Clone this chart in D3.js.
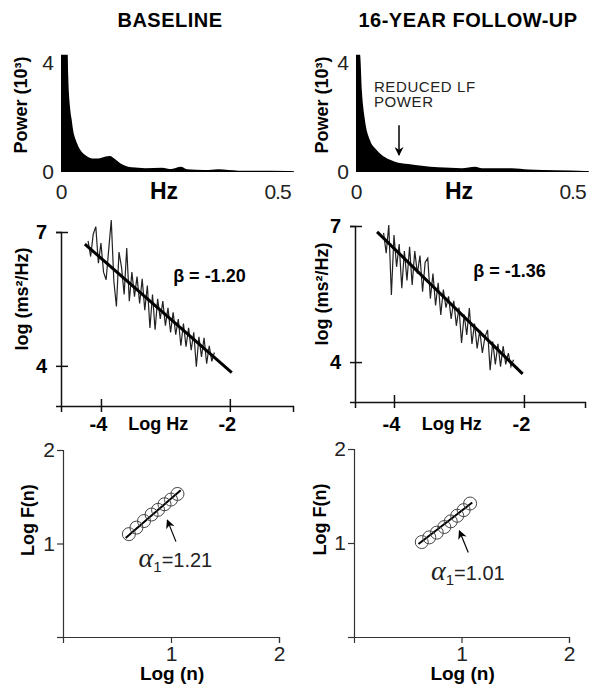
<!DOCTYPE html>
<html>
<head>
<meta charset="utf-8">
<script src="https://cdn.jsdelivr.net/npm/d3@7"></script>
<style>
body { margin: 0; background: #fff; }
</style>
</head>
<body>
<script>
// values
var titles = ["BASELINE", "16-YEAR FOLLOW-UP"];

// power spectra (Hz, power in 10^3)
var hzBase  = [0, 0.015, 0.016, 0.020, 0.024, 0.027, 0.033, 0.039, 0.054, 0.069, 0.083, 0.098, 0.109, 0.121, 0.135, 0.158, 0.188, 0.225, 0.247, 0.268, 0.281, 0.321, 0.351, 0.396, 0.507, 0.52];
var powBase = [4.3, 4.3, 3.6, 2.4, 1.9, 1.54, 1.17, 0.93, 0.62, 0.50, 0.50, 0.56, 0.59, 0.47, 0.29, 0.17, 0.14, 0.16, 0.11, 0.19, 0.10, 0.07, 0.10, 0.05, 0.04, 0.03];
var hzFollow  = [0, 0.009, 0.013, 0.020, 0.031, 0.046, 0.065, 0.087, 0.117, 0.147, 0.184, 0.236, 0.266, 0.281, 0.348, 0.385, 0.511, 0.52];
var powFollow = [4.3, 4.3, 3.0, 1.9, 1.17, 0.81, 0.54, 0.38, 0.29, 0.23, 0.17, 0.14, 0.19, 0.14, 0.14, 0.09, 0.04, 0.03];

// log-log spectra
var logHzBase = [-4.20, -4.16, -4.12, -4.08, -4.04, -4.00, -3.96, -3.92, -3.88, -3.84, -3.80, -3.76, -3.72, -3.68, -3.64, -3.60, -3.56, -3.52, -3.48, -3.44, -3.40, -3.36, -3.32, -3.28, -3.24, -3.20, -3.16, -3.12, -3.08, -3.04, -3.00, -2.96, -2.92, -2.88, -2.84, -2.80, -2.76, -2.72, -2.68, -2.64, -2.60, -2.56, -2.52, -2.48, -2.44, -2.40, -2.36, -2.32, -2.28, -2.24];
var logPowBase = [6.80, 6.45, 6.95, 7.12, 6.30, 6.75, 6.10, 5.93, 6.60, 7.27, 5.90, 5.33, 6.55, 6.20, 5.60, 6.64, 5.45, 6.10, 5.55, 6.00, 5.40, 5.95, 5.25, 5.80, 4.85, 5.60, 4.81, 5.50, 5.05, 5.45, 4.90, 5.30, 4.75, 5.20, 4.70, 5.05, 4.45, 4.95, 4.43, 4.85, 4.35, 4.75, 3.98, 4.65, 4.20, 4.63, 4.05, 4.45, 4.10, 4.30];
var logHzFollow = [-4.16, -4.12, -4.08, -4.04, -4.00, -3.96, -3.92, -3.88, -3.84, -3.80, -3.76, -3.72, -3.68, -3.64, -3.60, -3.56, -3.52, -3.48, -3.44, -3.40, -3.36, -3.32, -3.28, -3.24, -3.20, -3.16, -3.12, -3.08, -3.04, -3.00, -2.96, -2.92, -2.88, -2.84, -2.80, -2.76, -2.72, -2.68, -2.64, -2.60, -2.56, -2.52, -2.48, -2.44, -2.40, -2.36, -2.32, -2.28, -2.24, -2.20, -2.16];
var logPowFollow = [6.85, 6.40, 7.02, 5.48, 6.80, 6.10, 6.60, 5.63, 6.45, 5.80, 6.54, 5.70, 6.45, 5.95, 6.35, 5.55, 6.20, 6.29, 5.40, 5.95, 5.25, 5.75, 5.04, 5.60, 5.20, 5.45, 4.95, 5.35, 4.80, 5.20, 4.42, 5.05, 4.60, 5.19, 4.40, 4.85, 4.30, 4.70, 4.20, 4.55, 4.71, 3.82, 4.45, 3.95, 4.40, 3.90, 4.35, 3.95, 4.20, 3.90, 4.05];
var fitHzBase = [-4.25, -1.97], fitPowBase = [6.73, 3.85];
var fitHzFollow = [-4.26, -2.02], fitPowFollow = [6.87, 3.74];
var betas = ["β = -1.20", "β = -1.36"];

// DFA
var logNBase = [0.61, 0.68, 0.75, 0.82, 0.88, 0.94, 1.00, 1.06];
var logFBase = [1.10, 1.17, 1.24, 1.31, 1.36, 1.42, 1.47, 1.53];
var logNFollow = [0.63, 0.70, 0.77, 0.84, 0.90, 0.96, 1.02, 1.08];
var logFFollow = [1.01, 1.06, 1.11, 1.17, 1.23, 1.29, 1.35, 1.42];
var fitNBase = [0.58, 1.09], fitFBase = [1.06, 1.57];
var fitNFollow = [0.60, 1.10], fitFFollow = [0.99, 1.43];
var alphas = ["=1.21", "=1.01"];

var specTicksX = [0, 0.5], specTicksY = [0, 4];
var slopeTicksX = [-4, -2], slopeTicksY = [4, 7];
var dfaTicksX = [1, 2], dfaTicksY = [0, 1, 2];

var cols = [
  { title: titles[0], hz: hzBase, pow: powBase, lhz: logHzBase, lpow: logPowBase,
    fitHz: fitHzBase, fitPow: fitPowBase, beta: betas[0],
    n: logNBase, f: logFBase, fitN: fitNBase, fitF: fitFBase, alpha: alphas[0] },
  { title: titles[1], hz: hzFollow, pow: powFollow, lhz: logHzFollow, lpow: logPowFollow,
    fitHz: fitHzFollow, fitPow: fitPowFollow, beta: betas[1],
    n: logNFollow, f: logFFollow, fitN: fitNFollow, fitF: fitFFollow, alpha: alphas[1] }
];

// panel geometry
var layout = [
  { cx: 170,
    top: { x: [61, 285], y: [172, 63], lab: 21 },
    mid: { x: [61, 293], y: [406, 232], xd: [-4.62, -1.02], yd: [3.1, 7], lab: 22, beta: [-2.88, 5.89] },
    bot: { x: [63, 279], y: [637, 450], lab: 28, arrow: [[1.046, 1.02], [0.966, 1.25]], alpha: [0.70, 0.75] } },
  { cx: 468,
    top: { x: [356, 580], y: [172, 63], lab: 322 },
    mid: { x: [355, 585], y: [402, 226], xd: [-4.6, -1.06], yd: [3.12, 7], lab: 322, beta: [-2.78, 5.87] },
    bot: { x: [354, 569], y: [637, 449], lab: 320, arrow: [[1.063, 0.90], [0.98, 1.13]], alpha: [0.716, 0.61] } }
];

var thin = "'Liberation Sans', Arial, sans-serif";
var plain = d => String(d);

var svg = d3.select("body").append("svg")
    .attr("width", 590)
    .attr("height", 687)
    .style("font-family", thin);

svg.append("defs").append("marker")
    .attr("id", "head")
    .attr("viewBox", "0 0 10 10")
    .attr("refX", 9).attr("refY", 5)
    .attr("markerUnits", "userSpaceOnUse")
    .attr("markerWidth", 10).attr("markerHeight", 9)
    .attr("orient", "auto")
  .append("path")
    .attr("d", "M0,0 L10,5 L0,10 L3,5 Z")
    .attr("fill", "#000");

function rotLabel(g, x, y, txt) {
    g.append("text")
        .attr("transform", "translate(" + x + "," + y + ") rotate(-90)")
        .attr("text-anchor", "middle")
        .attr("dominant-baseline", "central")
        .style("font-size", "18px")
        .style("font-weight", "bold")
        .text(txt);
}

cols.forEach(function (c, i) {
    var L = layout[i];
    var g = svg.append("g");

    g.append("text")
        .attr("x", L.cx).attr("y", 27)
        .attr("text-anchor", "middle")
        .style("font-size", "20px")
        .style("font-weight", "bold")
        .style("letter-spacing", "0.5px")
        .text(c.title);

    // --- power spectrum
    var xt = d3.scaleLinear().domain([0, 0.5]).range(L.top.x);
    var yt = d3.scaleLinear().domain([0, 4]).range(L.top.y);

    g.append("path")
        .datum(d3.zip(c.hz, c.pow))
        .attr("fill", "#000")
        .attr("d", d3.area()
            .x(d => xt(d[0]))
            .y0(yt(0))
            .y1(d => yt(d[1]))
            .curve(d3.curveMonotoneX));

    var ay = g.append("g")
        .attr("transform", "translate(" + L.top.x[0] + ",0)")
        .call(d3.axisLeft(yt).tickValues(specTicksY).tickSize(0).tickPadding(7).tickFormat(plain));
    var ax = g.append("g")
        .attr("transform", "translate(0," + yt(0) + ")")
        .call(d3.axisBottom(xt).tickValues(specTicksX).tickSize(0).tickPadding(12).tickFormat(plain));
    [ay, ax].forEach(function (a) {
        a.select(".domain").remove();
        a.selectAll("text").style("font-size", "21px").style("font-family", thin).attr("fill", "#222");
    });
    ax.selectAll("text").filter(d => d == 0.5)
        .attr("dx", -8)
        .style("letter-spacing", "-1px");

    g.append("text")
        .attr("x", xt(0.23)).attr("y", yt(0) + 27)
        .attr("text-anchor", "middle")
        .style("font-size", "23px")
        .style("font-weight", "bold")
        .text("Hz");
    rotLabel(g, L.top.lab, yt(2.46), "Power (10³)");

    if (i == 1) {
        g.append("text")
            .attr("x", xt(0.04)).attr("y", yt(2.95))
            .style("font-size", "15px").style("letter-spacing", "0.6px").attr("fill", "#222")
            .text("REDUCED LF");
        g.append("text")
            .attr("x", xt(0.04)).attr("y", yt(2.39))
            .style("font-size", "15px").style("letter-spacing", "0.6px").attr("fill", "#222")
            .text("POWER");
        g.append("line")
            .attr("x1", xt(0.096)).attr("x2", xt(0.096))
            .attr("y1", yt(1.72)).attr("y2", yt(0.62))
            .attr("stroke", "#000").attr("stroke-width", 1.5)
            .attr("marker-end", "url(#head)");
    }

    // --- log-log spectrum
    var xm = d3.scaleLinear().domain(L.mid.xd).range(L.mid.x);
    var ym = d3.scaleLinear().domain(L.mid.yd).range(L.mid.y);

    var mx = g.append("g")
        .attr("transform", "translate(0," + L.mid.y[0] + ")")
        .call(d3.axisBottom(xm).tickValues(slopeTicksX).tickSizeOuter(0).tickSize(6)
            .tickPadding(430 - L.mid.y[0] - 19).tickFormat(plain));
    mx.selectAll(".tick line").attr("y1", -7);
    mx.selectAll("text").attr("dx", -3);
    var my = g.append("g")
        .attr("transform", "translate(" + L.mid.x[0] + ",0)")
        .call(d3.axisLeft(ym).tickValues(slopeTicksY).tickSizeOuter(0).tickSize(5).tickPadding(9).tickFormat(plain));
    my.selectAll(".tick line").attr("x1", 7);
    [mx, my].forEach(function (a) {
        a.selectAll("path, line").attr("stroke", "#111").attr("stroke-width", 1.5);
        a.selectAll("text").style("font-size", "20px").style("font-weight", "bold").attr("fill", "#000");
    });

    g.append("path")
        .datum(d3.zip(c.lhz, c.lpow))
        .attr("fill", "none")
        .attr("stroke", "#222")
        .attr("stroke-width", 1.2)
        .attr("d", d3.line().x(d => xm(d[0])).y(d => ym(d[1])));
    g.append("path")
        .datum(d3.zip(c.fitHz, c.fitPow))
        .attr("fill", "none")
        .attr("stroke", "#000")
        .attr("stroke-width", 3)
        .attr("d", d3.line().x(d => xm(d[0])).y(d => ym(d[1])));

    g.append("text")
        .attr("x", xm(L.mid.beta[0])).attr("y", ym(L.mid.beta[1]))
        .style("font-size", "18px")
        .style("font-weight", "bold")
        .text(c.beta);
    g.append("text")
        .attr("x", xm(-3.11)).attr("y", 430)
        .attr("text-anchor", "middle")
        .style("font-size", "18px")
        .style("font-weight", "bold")
        .text("Log Hz");
    rotLabel(g, L.mid.lab, ym(5.5), "log (ms²/Hz)");

    // --- DFA
    var xb = d3.scaleLinear().domain([0, 2]).range(L.bot.x);
    var yb = d3.scaleLinear().domain([0, 2]).range(L.bot.y);

    var bx = g.append("g")
        .attr("transform", "translate(0," + L.bot.y[0] + ")")
        .call(d3.axisBottom(xb).tickValues(dfaTicksX).tickSizeOuter(0).tickSize(6).tickPadding(3).tickFormat(plain));
    var by = g.append("g")
        .attr("transform", "translate(" + L.bot.x[0] + ",0)")
        .call(d3.axisLeft(yb).tickValues(dfaTicksY).tickSizeOuter(0).tickSize(6).tickPadding(2)
            .tickFormat(d => d ? String(d) : ""));
    [bx, by].forEach(function (a) {
        a.selectAll("path, line").attr("stroke", "#333").attr("stroke-width", 1.2);
        a.selectAll("text").style("font-size", "21px").style("font-family", thin).attr("fill", "#222");
    });

    g.append("path")
        .datum(d3.zip(c.fitN, c.fitF))
        .attr("fill", "none")
        .attr("stroke", "#000")
        .attr("stroke-width", 2)
        .attr("d", d3.line().x(d => xb(d[0])).y(d => yb(d[1])));
    g.selectAll(".dfa" + i)
        .data(d3.zip(c.n, c.f))
        .enter().append("circle")
        .attr("cx", d => xb(d[0]))
        .attr("cy", d => yb(d[1]))
        .attr("r", 6.5)
        .attr("fill", "none")
        .attr("stroke", "#444")
        .attr("stroke-width", 1);

    g.append("line")
        .attr("x1", xb(L.bot.arrow[0][0])).attr("y1", yb(L.bot.arrow[0][1]))
        .attr("x2", xb(L.bot.arrow[1][0])).attr("y2", yb(L.bot.arrow[1][1]))
        .attr("stroke", "#000").attr("stroke-width", 1.2)
        .attr("marker-end", "url(#head)");

    var at = g.append("text")
        .attr("x", xb(L.bot.alpha[0])).attr("y", yb(L.bot.alpha[1]))
        .attr("fill", "#222");
    at.append("tspan")
        .style("font-family", "'Liberation Serif', 'DejaVu Serif', serif")
        .style("font-style", "italic")
        .style("font-size", "28px")
        .text("α");
    at.append("tspan")
        .attr("dy", 5)
        .style("font-size", "15px")
        .text("1");
    at.append("tspan")
        .attr("dy", -5)
        .style("font-size", "20px")
        .text(c.alpha);

    g.append("text")
        .attr("x", xb(1.01)).attr("y", 680)
        .attr("text-anchor", "middle")
        .style("font-size", "19px")
        .style("font-weight", "bold")
        .text("Log (n)");
    rotLabel(g, L.bot.lab, yb(1.25), "Log F(n)");
});
</script>
</body>
</html>
